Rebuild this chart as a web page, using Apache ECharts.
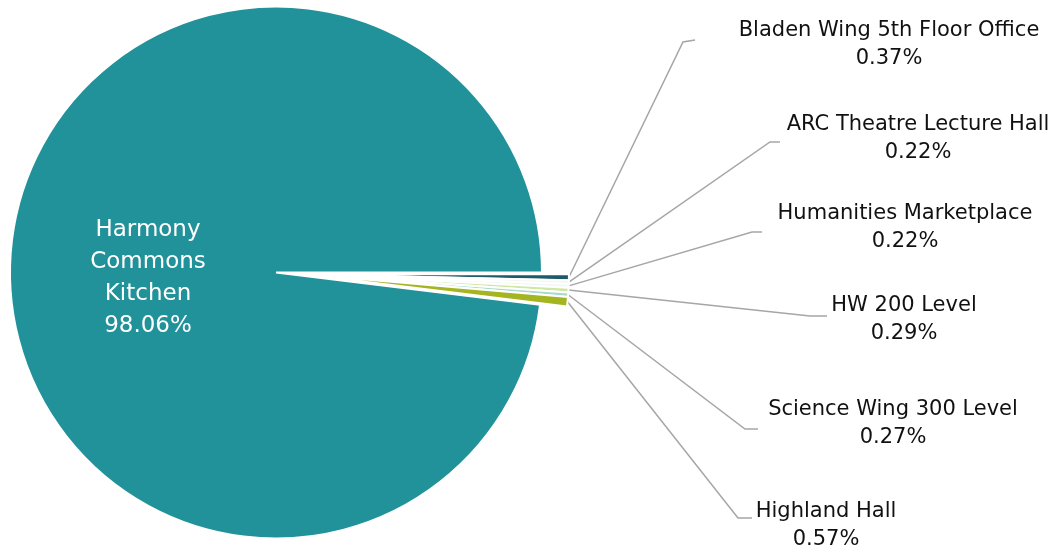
<!DOCTYPE html>
<html>
<head>
<meta charset="utf-8">
<style>
  html, body { margin: 0; padding: 0; background: #ffffff; }
  #chart { width: 1059px; height: 553px; }
</style>
<script src="https://cdn.jsdelivr.net/npm/echarts@6/dist/echarts.min.js"></script>
</head>
<body>
<div id="chart"></div>
<script>
// Share of total by location (percent)
const categories = [
  'Harmony Commons Kitchen',
  'Bladen Wing 5th Floor Office',
  'ARC Theatre Lecture Hall',
  'Humanities Marketplace',
  'HW 200 Level',
  'Science Wing 300 Level',
  'Highland Hall'
];
const shares = [98.06, 0.37, 0.22, 0.22, 0.29, 0.27, 0.57];

const sliceColors = ['#21929a', '#1d5a6b', '#f3f9ee', '#eef7f3', '#cfe7a0', '#a9dcc8', '#a4b51f'];

// Where each label block sits and how its leader line bends
const labelSpots = [
  { x: 148, y: 278 },
  { x: 889, y: 45,  bend: [683, 42],  end: [695, 40] },
  { x: 918, y: 139, bend: [770, 142], end: [780, 142] },
  { x: 905, y: 228, bend: [752, 232], end: [762, 232] },
  { x: 904, y: 320, bend: [810, 316], end: [827, 316] },
  { x: 893, y: 424, bend: [745, 429], end: [758, 429] },
  { x: 826, y: 526, bend: [738, 518], end: [752, 518] }
];

const pieCenter = [276, 272.5];
const pieRadius = 266;
const explode = 28;

// The small slices sit in a wedge just below 3 o'clock
const smallTotal = shares.slice(1).reduce((a, b) => a + b, 0);
const startAngle = -smallTotal * 3.6;
// Pull the small slices out along the middle of their wedge
const midRad = (startAngle / 2) * Math.PI / 180;
const explodedCenter = [
  pieCenter[0] + explode * Math.cos(midRad),
  pieCenter[1] - explode * Math.sin(midRad)
];

const hidden = { color: 'rgba(0,0,0,0)', borderWidth: 0 };

// Main slice (the small ones are left as empty space here)
const mainData = categories.map((name, i) => ({
  name: name,
  value: shares[i],
  itemStyle: i === 0 ? { color: sliceColors[0] } : hidden,
  label: i === 0 ? {
    show: true,
    position: 'inner',
    color: '#ffffff',
    fontFamily: 'DejaVu Sans',
    fontSize: 23,
    lineHeight: 32,
    formatter: p => p.name.split(' ').join('\n') + '\n' + p.value.toFixed(2) + '%'
  } : { show: false },
  labelLine: { show: false }
}));

// Small slices, drawn pulled away from the main one
const smallData = categories.map((name, i) => ({
  name: name,
  value: shares[i],
  itemStyle: i === 0 ? hidden : { color: sliceColors[i] },
  label: { show: i !== 0 },
  labelLine: { show: i !== 0 }
}));

const common = {
  type: 'pie',
  startAngle: startAngle,
  clockwise: true,
  avoidLabelOverlap: false,
  minShowLabelAngle: 0,
  itemStyle: { borderWidth: 2, borderColor: '#ffffff', borderJoin: 'miter' },
  emphasis: { disabled: true },
  silent: true
};

const chart = echarts.init(document.getElementById('chart'), null, { renderer: 'canvas' });
chart.setOption({
  animation: false,
  backgroundColor: '#ffffff',
  series: [
    Object.assign({}, common, {
      center: pieCenter,
      radius: pieRadius,
      labelLayout: function (p) {
        const spot = labelSpots[p.dataIndex];
        return { x: spot.x, y: spot.y, align: 'center', verticalAlign: 'middle', hideOverlap: false };
      },
      data: mainData
    }),
    Object.assign({}, common, {
      center: explodedCenter,
      radius: pieRadius - 1,
      label: {
        position: 'outside',
        fontFamily: 'DejaVu Sans',
        fontSize: 21,
        lineHeight: 28,
        color: '#111111',
        align: 'center',
        formatter: p => p.name + '\n' + p.value.toFixed(2) + '%'
      },
      labelLine: {
        length: 20,
        length2: 10,
        lineStyle: { color: '#a6a6a6', width: 1.5 }
      },
      labelLayout: function (p) {
        const spot = labelSpots[p.dataIndex];
        const out = { x: spot.x, y: spot.y, align: 'center', verticalAlign: 'middle', hideOverlap: false };
        if (spot.bend && p.labelLinePoints) {
          out.labelLinePoints = [p.labelLinePoints[0], spot.bend, spot.end];
        }
        return out;
      },
      data: smallData
    })
  ]
});
</script>
</body>
</html>
